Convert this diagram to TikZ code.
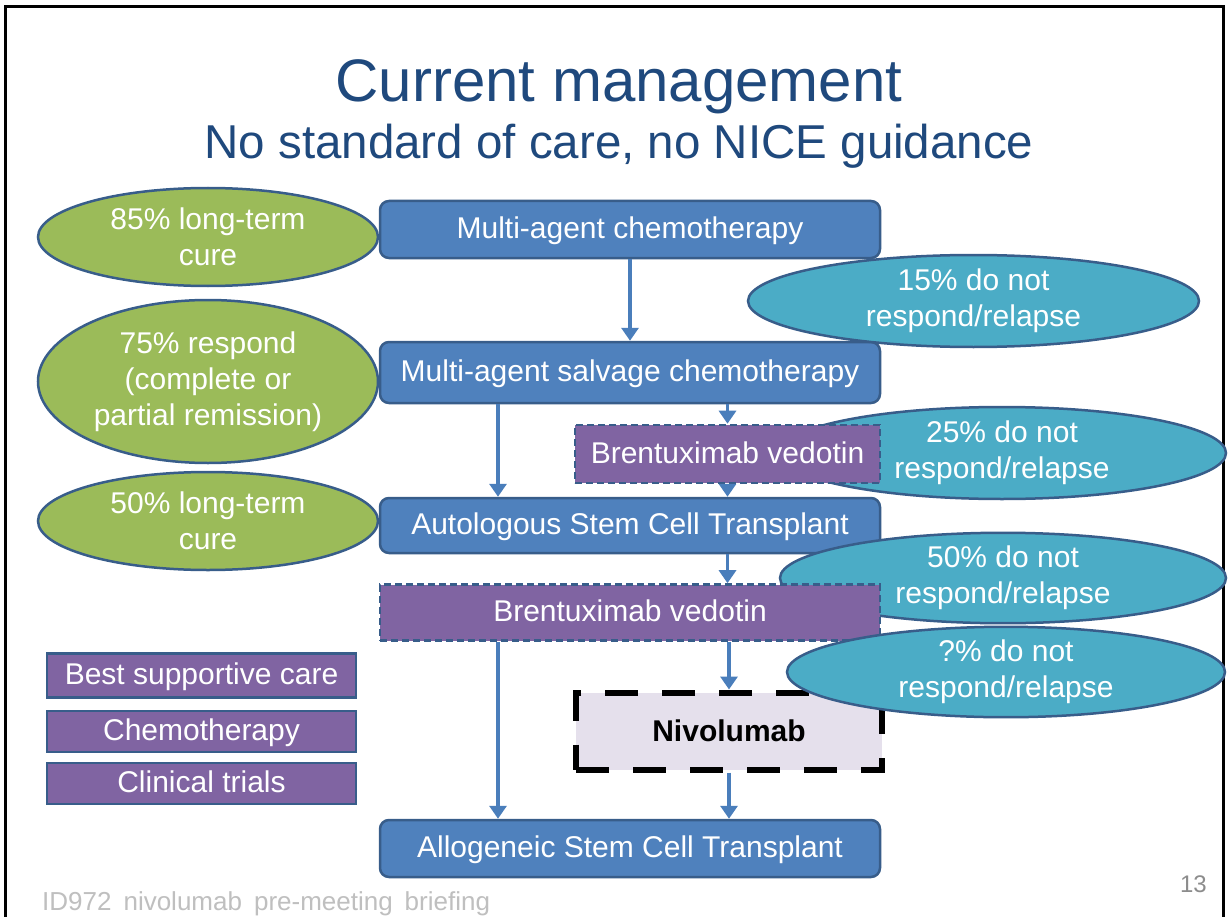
\documentclass[tikz,border=0pt]{standalone}
\usepackage{fontspec}
\setmainfont{Liberation Sans}
\usetikzlibrary{shapes.geometric,arrows.meta}
\definecolor{titleblue}{HTML}{1F497D}
\definecolor{boxblue}{HTML}{4F81BD}
\definecolor{edgeblue}{HTML}{385D8A}
\definecolor{arrowblue}{HTML}{4A7EBB}
\definecolor{bvpurple}{HTML}{8064A2}
\definecolor{curegreen}{HTML}{9BBB59}
\definecolor{relapseteal}{HTML}{4BACC6}
\definecolor{nivfill}{HTML}{E5E0EC}
\definecolor{footgray}{HTML}{BFBFBF}
\definecolor{pagegray}{HTML}{8C8C8C}
\begin{document}
\begin{tikzpicture}[x=1pt,y=-1pt,
  txt/.style={text=white,font=\fontsize{30}{36}\selectfont,align=center,inner sep=0pt},
  bluebox/.style={txt,text depth=3pt,draw=edgeblue,line width=2.5pt,fill=boxblue,rounded corners=9pt,minimum width=500pt},
  bvbox/.style={txt,text depth=3pt,draw=edgeblue,line width=2.6pt,fill=bvpurple,dash pattern=on 7pt off 4pt},
  legbox/.style={txt,text depth=3pt,draw=edgeblue,line width=2.5pt,fill=bvpurple,minimum width=309pt},
  cureell/.style={txt,ellipse,draw=edgeblue,line width=2.5pt,fill=curegreen,minimum width=340pt},
  relell/.style={txt,ellipse,draw=edgeblue,line width=2.5pt,fill=relapseteal},
  conn/.style={draw=arrowblue,line width=3.2pt,-{Triangle[width=17pt,length=13pt]}}]
\useasboundingbox (0,0) rectangle (1230,917);
\fill[white] (0,0) rectangle (1230,917);
% frame
\draw[line width=3pt] (5,920) -- (5,6.5) -- (1223,6.5) -- (1223,920);
% titles
\node[anchor=base,text=titleblue,font=\fontsize{60}{66}\selectfont,inner sep=0pt] (title) at (619,102) {Current management};
\node[anchor=base,text=titleblue,font=\fontsize{47.5}{52}\selectfont,inner sep=0pt] (subtitle) at (619,159) {No standard of care, no NICE guidance};
% left ellipses
\node[cureell,minimum height=98pt] (e1) at (208,237) {85\% long-term\\cure};
\node[cureell,minimum height=163pt] (e2) at (208,381.5) {75\% respond\\(complete or\\partial remission)};
\node[cureell,minimum height=98pt] (e3) at (208,521) {50\% long-term\\cure};
% main column
\node[bluebox,minimum height=57pt] (b1) at (630,229.5) {Multi-agent chemotherapy};
\node[bluebox,minimum height=61pt] (b2) at (630,372.5) {Multi-agent salvage chemotherapy};
\node[relell,minimum width=448pt,minimum height=92pt] (r2) at (1002,453) {25\% do not\\respond/relapse};
\node[bvbox,minimum width=305pt,minimum height=58pt] (sbv) at (727.5,454) {Brentuximab vedotin};
\node[bluebox,minimum height=55pt] (b3) at (630,525.5) {Autologous Stem Cell Transplant};
\node[relell,minimum width=446pt,minimum height=90pt] (r3) at (1003,578) {50\% do not\\respond/relapse};
\node[bvbox,minimum width=500pt,minimum height=56pt] (bbv) at (630,612.5) {Brentuximab vedotin};
\node[draw=black,line width=6pt,dash pattern=on 33pt off 24pt,fill=nivfill,minimum width=306pt,minimum height=77pt,font=\fontsize{30}{36}\selectfont\bfseries,inner sep=0pt] (niv) at (729,731) {Nivolumab};
\node[bluebox,minimum height=57pt] (allo) at (630,848.5) {Allogeneic Stem Cell Transplant};
\node[relell,minimum width=451pt,minimum height=92pt] (r1) at (973.5,301) {15\% do not\\respond/relapse};
\node[relell,minimum width=438pt,minimum height=90pt] (r4) at (1006,672) {?\% do not\\respond/relapse};
% legend
\node[legbox,minimum height=44pt] (l1) at (201.5,675.5) {Best supportive care};
\node[legbox,minimum height=41pt] (l2) at (201.5,731.5) {Chemotherapy};
\node[legbox,minimum height=41pt] (l3) at (201.5,783.5) {Clinical trials};
% connectors
\draw[conn] (b1.south) -- (b2.north);
\draw[conn] ([xshift=-132pt]b2.south) -- ([xshift=-132pt]b3.north);
\draw[conn] (b2.south -| sbv.north) -- (sbv.north);
\draw[conn] (sbv.south) -- (b3.north -| sbv.south);
\draw[conn] (b3.south -| sbv.south) -- (bbv.north -| sbv.south);
\draw[conn] ([xshift=-132pt]bbv.south) -- ([xshift=-132pt]allo.north);
\draw[conn] (bbv.south -| niv.north) -- (niv.north);
\draw[conn] (niv.south) -- (allo.north -| niv.south);
% footer
\node[anchor=base west,text=footgray,font=\fontsize{26}{30}\selectfont,inner sep=0pt] (foot) at (42,910) {ID972\hspace{12pt}nivolumab\hspace{12pt}pre-meeting\hspace{12pt}briefing};
\node[anchor=base east,text=pagegray,font=\fontsize{24}{28}\selectfont,inner sep=0pt] (page) at (1207,892) {13};
\end{tikzpicture}
\end{document}
